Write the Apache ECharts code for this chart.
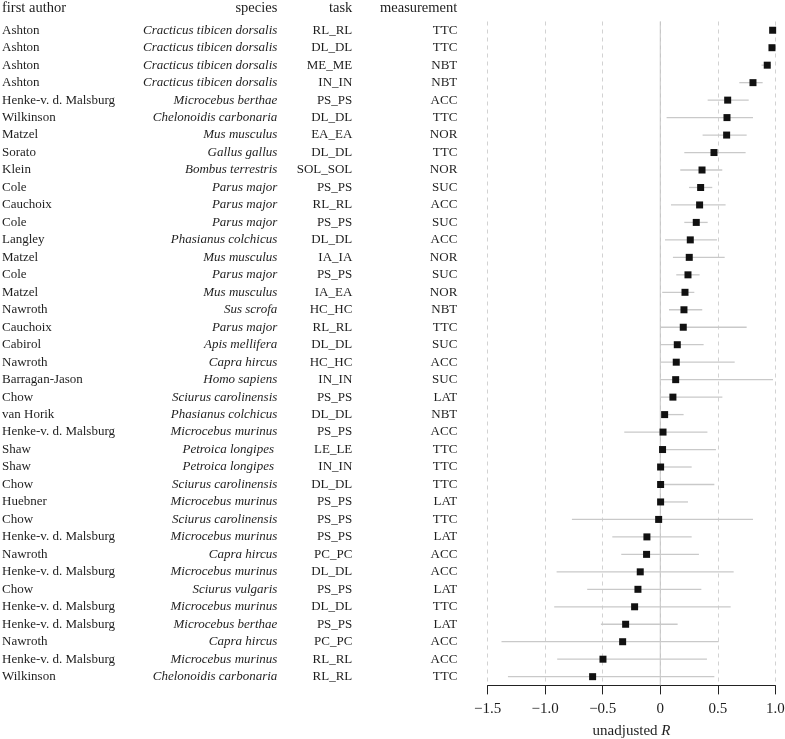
<!DOCTYPE html>
<html>
<head>
<meta charset="utf-8">
<script src="https://cdn.jsdelivr.net/npm/echarts@6/dist/echarts.min.js"></script>
<style>
html,body{margin:0;padding:0;background:#fff;}
#chart{width:785px;height:739px;}
</style>
</head>
<body>
<div id="chart"></div>
<script>
var authors = ["Ashton","Ashton","Ashton","Ashton","Henke-v. d. Malsburg","Wilkinson","Matzel","Sorato","Klein","Cole","Cauchoix","Cole","Langley","Matzel","Cole","Matzel","Nawroth","Cauchoix","Cabirol","Nawroth","Barragan-Jason","Chow","van Horik","Henke-v. d. Malsburg","Shaw","Shaw","Chow","Huebner","Chow","Henke-v. d. Malsburg","Nawroth","Henke-v. d. Malsburg","Chow","Henke-v. d. Malsburg","Henke-v. d. Malsburg","Nawroth","Henke-v. d. Malsburg","Wilkinson"];
var species = ["Cracticus tibicen dorsalis","Cracticus tibicen dorsalis","Cracticus tibicen dorsalis","Cracticus tibicen dorsalis","Microcebus berthae","Chelonoidis carbonaria","Mus musculus","Gallus gallus","Bombus terrestris","Parus major","Parus major","Parus major","Phasianus colchicus","Mus musculus","Parus major","Mus musculus","Sus scrofa","Parus major","Apis mellifera","Capra hircus","Homo sapiens","Sciurus carolinensis","Phasianus colchicus","Microcebus murinus","Petroica longipes ","Petroica longipes ","Sciurus carolinensis","Microcebus murinus","Sciurus carolinensis","Microcebus murinus","Capra hircus","Microcebus murinus","Sciurus vulgaris","Microcebus murinus","Microcebus berthae","Capra hircus","Microcebus murinus","Chelonoidis carbonaria"];
var tasks = ["RL_RL","DL_DL","ME_ME","IN_IN","PS_PS","DL_DL","EA_EA","DL_DL","SOL_SOL","PS_PS","RL_RL","PS_PS","DL_DL","IA_IA","PS_PS","IA_EA","HC_HC","RL_RL","DL_DL","HC_HC","IN_IN","PS_PS","DL_DL","PS_PS","LE_LE","IN_IN","DL_DL","PS_PS","PS_PS","PS_PS","PC_PC","DL_DL","PS_PS","DL_DL","PS_PS","PC_PC","RL_RL","RL_RL"];
var measurements = ["TTC","TTC","NBT","NBT","ACC","TTC","NOR","TTC","NOR","SUC","ACC","SUC","ACC","NOR","SUC","NOR","NBT","TTC","SUC","ACC","SUC","LAT","NBT","ACC","TTC","TTC","TTC","LAT","TTC","LAT","ACC","ACC","LAT","TTC","LAT","ACC","ACC","TTC"];
var rValues = [0.977,0.971,0.93,0.806,0.586,0.58,0.577,0.467,0.363,0.351,0.342,0.313,0.261,0.252,0.241,0.215,0.206,0.2,0.148,0.139,0.134,0.11,0.038,0.024,0.02,0.003,0.003,0.003,-0.014,-0.116,-0.119,-0.174,-0.194,-0.223,-0.301,-0.327,-0.498,-0.588];
var ciLower = [0.965,0.96,0.88,0.687,0.412,0.055,0.368,0.209,0.174,0.25,0.093,0.209,0.041,0.11,0.139,0.017,0.076,0,0,0,0,0,0.02,-0.313,0,0,0,0,-0.768,-0.417,-0.339,-0.901,-0.635,-0.922,-0.516,-1.38,-0.896,-1.324];
var ciUpper = [0.988,0.982,0.96,0.89,0.769,0.806,0.751,0.742,0.539,0.452,0.568,0.412,0.493,0.56,0.342,0.296,0.365,0.751,0.377,0.647,0.98,0.54,0.203,0.41,0.484,0.273,0.47,0.241,0.806,0.273,0.336,0.638,0.357,0.612,0.151,0.507,0.406,0.47];
var xTicks = {min: -1.5, max: 1.0, step: 0.5};
var referenceLine = 0;
var headers = ["first author","species","task","measurement"];

var FONT = '"Liberation Serif", "DejaVu Serif", serif';
var TXT = '#1e1e1e';

var points = rValues.map(function(v, i){ return [v, i]; });
var ciData = rValues.map(function(v, i){ return [ciLower[i], i, ciUpper[i]]; });

function yCol(data, margin, align, italic) {
  return {
    type: 'category', gridIndex: 0, data: data, inverse: true,
    position: 'left',
    axisLine: {show: false, onZero: false}, axisTick: {show: false},
    splitLine: {show: false},
    axisLabel: {
      interval: 0, margin: margin, align: align,
      fontFamily: FONT, fontSize: 13, color: TXT,
      fontStyle: italic ? 'italic' : 'normal'
    }
  };
}

var chart = echarts.init(document.getElementById('chart'), null, {renderer: 'canvas'});
var HF = '14.5px ' + FONT;
var option = {
  animation: false,
  backgroundColor: '#ffffff',
  grid: {left: 487.7, right: 9.7, top: 21.5, bottom: 53.6, containLabel: false, outerBoundsMode: 'none'},
  xAxis: {
    type: 'value', min: xTicks.min, max: xTicks.max, interval: xTicks.step,
    axisLine: {show: true, onZero: false, lineStyle: {color: '#222', width: 1}},
    axisTick: {show: true, length: 9, lineStyle: {color: '#222', width: 1}},
    splitLine: {show: true, lineStyle: {color: '#d2d2d2', width: 1, type: [4, 4]}},
    axisLabel: {
      margin: 16, fontFamily: FONT, fontSize: 15, color: TXT,
      formatter: function(v){ if (v === 0) return '0'; return (v < 0 ? '\u2212' : '') + Math.abs(v).toFixed(1); }
    },
    name: 'unadjusted {i|R}', nameLocation: 'middle', nameGap: 38,
    nameTextStyle: {fontFamily: FONT, fontSize: 15, color: TXT,
      rich: {i: {fontFamily: FONT, fontSize: 15, color: TXT, fontStyle: 'italic'}}}
  },
  yAxis: [
    yCol(authors, 485.7, 'left', false),
    yCol(species, 210.4, 'right', true),
    yCol(tasks, 135.4, 'right', false),
    yCol(measurements, 30.4, 'right', false)
  ],
  graphic: [
    {type: 'text', left: 2, top: 1, style: {text: headers[0], font: HF, fill: TXT}},
    {type: 'text', right: 785 - 277.3, top: 1, style: {text: headers[1], font: HF, fill: TXT}},
    {type: 'text', right: 785 - 352.3, top: 1, style: {text: headers[2], font: HF, fill: TXT}},
    {type: 'text', right: 785 - 457.3, top: 1, style: {text: headers[3], font: HF, fill: TXT}}
  ],
  series: [
    {
      type: 'custom', xAxisIndex: 0, yAxisIndex: 0, data: ciData, silent: true, z: 2,
      encode: {x: 0, y: 1},
      renderItem: function(params, api){
        var a = api.coord([api.value(0), api.value(1)]);
        var b = api.coord([api.value(2), api.value(1)]);
        var children = [{type: 'line', shape: {x1: a[0], y1: a[1], x2: b[0], y2: b[1]},
          style: {stroke: '#c9c9c9', lineWidth: 1.3}}];
        if (params.dataIndex === 0) {
          var cs = params.coordSys;
          var z = api.coord([referenceLine, api.value(1)]);
          children.unshift({type: 'line', shape: {x1: z[0], y1: cs.y, x2: z[0], y2: cs.y + cs.height},
            style: {stroke: '#c4c4c4', lineWidth: 1}});
        }
        return {type: 'group', children: children};
      }
    },
    {
      type: 'scatter', xAxisIndex: 0, yAxisIndex: 0, data: points, z: 5,
      symbol: 'rect', symbolSize: 7,
      itemStyle: {color: '#111111', opacity: 1}
    }
  ]
};
chart.setOption(option);
</script>
</body>
</html>
